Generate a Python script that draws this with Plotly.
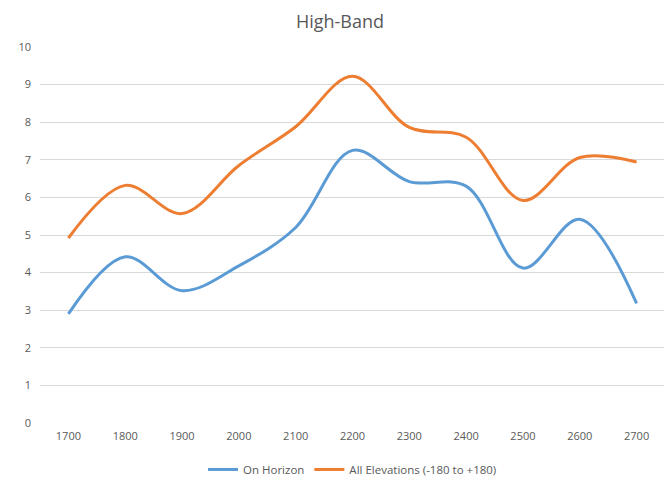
import plotly.graph_objects as go

categories = ["1700", "1800", "1900", "2000", "2100", "2200", "2300", "2400", "2500", "2600", "2700"]
on_horizon = [2.9, 4.42, 3.52, 4.18, 5.2, 7.25, 6.42, 6.3, 4.12, 5.42, 3.18]
all_elevations = [4.92, 6.32, 5.57, 6.85, 7.88, 9.22, 7.86, 7.6, 5.92, 7.06, 6.94]
y_ticks = list(range(0, 11))

fig = go.Figure()
fig.add_trace(go.Scatter(x=categories, y=on_horizon, mode="lines", name="On Horizon",
                         line=dict(color="#5B9BD5", width=3, shape="spline", smoothing=1.0)))
fig.add_trace(go.Scatter(x=categories, y=all_elevations, mode="lines", name="All Elevations (-180 to +180)",
                         line=dict(color="#ED7D31", width=3, shape="spline", smoothing=1.0)))

font_family = "Open Sans, Liberation Sans, sans-serif"
fig.update_layout(
    width=664, height=473,
    paper_bgcolor="white", plot_bgcolor="white",
    margin=dict(l=32, r=7, t=39, b=58, autoexpand=False),
    title=dict(text="High-Band", x=0.5, xanchor="center", xref="container",
               y=1, yref="paper", yanchor="bottom", pad=dict(b=19),
               font=dict(family=font_family, size=18, color="#595959")),
    font=dict(family=font_family, size=11, color="#595959"),
    xaxis=dict(type="category", range=[-0.5, 10.5], showgrid=False, showline=False,
               zeroline=False, ticks="", ticklabelstandoff=5,
               tickfont=dict(size=11, color="#595959")),
    yaxis=dict(range=[0, 10], tickvals=y_ticks, showgrid=True, gridcolor="#d9d9d9", gridwidth=1,
               zeroline=False, showline=False, ticks="", ticklabelstandoff=8,
               tickfont=dict(size=11, color="#595959")),
    legend=dict(orientation="h", x=0.5, xanchor="center", y=-0.085, yanchor="top",
                font=dict(size=11.5, color="#595959")),
    showlegend=True,
)

fig.write_html("out.html")
